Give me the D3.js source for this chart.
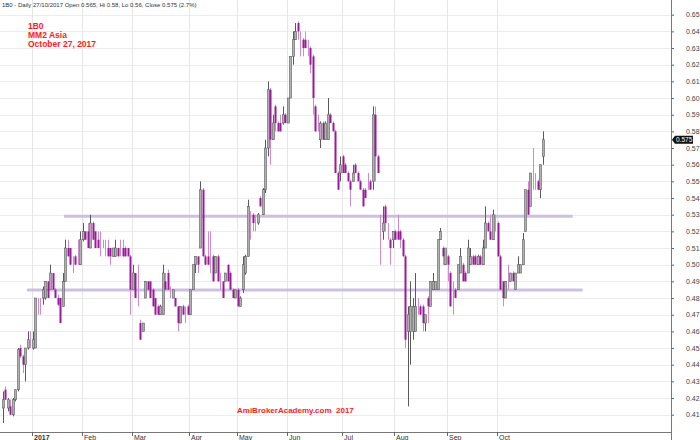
<!DOCTYPE html>
<html><head><meta charset="utf-8">
<script src="https://cdn.jsdelivr.net/npm/d3@7"></script>
<style>html,body{margin:0;padding:0;background:#fff}svg{display:block}</style>
</head><body>
<svg id="c" width="700" height="440"></svg>
<script>
const opens  = [0.414,0.425,0.414,0.415,0.410,0.419,0.425,0.450,0.445,0.440,0.450,0.455,0.450,0.450,0.477,0.476,0.480,0.480,0.490,0.485,0.495,0.485,0.480,0.480,0.475,0.490,0.510,0.510,0.504,0.505,0.505,0.500,0.515,0.520,0.520,0.510,0.525,0.520,0.515,0.510,0.512,0.510,0.510,0.510,0.505,0.505,0.510,0.510,0.510,0.510,0.510,0.505,0.485,0.495,0.485,0.465,0.460,0.480,0.490,0.490,0.485,0.480,0.475,0.470,0.470,0.490,0.495,0.484,0.480,0.480,0.475,0.465,0.475,0.470,0.475,0.470,0.485,0.500,0.505,0.510,0.545,0.505,0.505,0.505,0.505,0.495,0.505,0.490,0.490,0.490,0.500,0.495,0.485,0.480,0.485,0.475,0.485,0.495,0.505,0.525,0.530,0.525,0.525,0.540,0.530,0.545,0.570,0.605,0.575,0.595,0.585,0.585,0.585,0.590,0.585,0.600,0.625,0.635,0.645,0.635,0.635,0.635,0.630,0.630,0.625,0.595,0.585,0.575,0.585,0.575,0.575,0.590,0.585,0.580,0.555,0.555,0.565,0.560,0.555,0.550,0.550,0.560,0.555,0.550,0.545,0.545,0.550,0.550,0.550,0.590,0.565,0.520,0.520,0.535,0.520,0.515,0.515,0.520,0.520,0.520,0.515,0.505,0.460,0.460,0.460,0.460,0.475,0.475,0.475,0.465,0.480,0.475,0.485,0.485,0.485,0.515,0.510,0.500,0.505,0.495,0.485,0.485,0.485,0.495,0.500,0.495,0.495,0.500,0.505,0.505,0.500,0.505,0.500,0.510,0.525,0.520,0.515,0.525,0.525,0.505,0.490,0.480,0.490,0.490,0.495,0.485,0.495,0.495,0.500,0.520,0.545,0.535,0.550,0.550,0.550,0.545,0.565];
const highs  = [0.424,0.427,0.420,0.419,0.420,0.425,0.450,0.452,0.446,0.450,0.460,0.460,0.460,0.480,0.480,0.480,0.487,0.490,0.490,0.500,0.495,0.486,0.482,0.480,0.495,0.515,0.515,0.510,0.505,0.506,0.515,0.520,0.525,0.520,0.525,0.530,0.526,0.520,0.520,0.520,0.515,0.515,0.515,0.510,0.510,0.515,0.510,0.515,0.515,0.511,0.510,0.506,0.500,0.495,0.500,0.467,0.465,0.490,0.490,0.490,0.486,0.480,0.476,0.476,0.500,0.495,0.497,0.487,0.485,0.480,0.475,0.475,0.476,0.475,0.476,0.485,0.500,0.505,0.505,0.550,0.546,0.506,0.520,0.520,0.506,0.505,0.506,0.495,0.490,0.495,0.500,0.496,0.486,0.485,0.486,0.481,0.505,0.506,0.539,0.532,0.531,0.530,0.531,0.541,0.546,0.575,0.610,0.606,0.590,0.596,0.586,0.590,0.595,0.591,0.600,0.625,0.640,0.645,0.646,0.640,0.636,0.640,0.635,0.631,0.626,0.596,0.590,0.586,0.586,0.586,0.600,0.591,0.586,0.581,0.556,0.565,0.566,0.561,0.556,0.551,0.560,0.561,0.556,0.551,0.546,0.546,0.555,0.551,0.595,0.595,0.566,0.530,0.535,0.536,0.525,0.516,0.520,0.521,0.530,0.521,0.516,0.506,0.475,0.490,0.480,0.495,0.480,0.476,0.476,0.470,0.481,0.490,0.495,0.490,0.515,0.522,0.511,0.510,0.506,0.496,0.490,0.486,0.500,0.510,0.501,0.496,0.515,0.510,0.506,0.506,0.506,0.506,0.515,0.535,0.526,0.530,0.533,0.530,0.526,0.506,0.490,0.490,0.500,0.495,0.496,0.495,0.505,0.500,0.519,0.545,0.550,0.555,0.570,0.555,0.551,0.560,0.580];
const lows   = [0.405,0.419,0.412,0.410,0.409,0.418,0.424,0.444,0.435,0.430,0.449,0.450,0.449,0.450,0.470,0.470,0.476,0.479,0.480,0.485,0.485,0.480,0.475,0.465,0.475,0.490,0.505,0.500,0.495,0.500,0.500,0.500,0.514,0.515,0.510,0.510,0.515,0.510,0.510,0.505,0.510,0.505,0.505,0.500,0.505,0.505,0.505,0.505,0.505,0.505,0.505,0.470,0.485,0.480,0.475,0.455,0.460,0.480,0.485,0.480,0.475,0.470,0.470,0.470,0.470,0.485,0.485,0.480,0.480,0.475,0.460,0.465,0.470,0.465,0.470,0.470,0.485,0.495,0.495,0.510,0.505,0.500,0.500,0.495,0.490,0.495,0.490,0.485,0.480,0.490,0.490,0.485,0.480,0.480,0.475,0.475,0.483,0.494,0.505,0.515,0.520,0.520,0.524,0.535,0.530,0.543,0.565,0.560,0.575,0.580,0.580,0.580,0.584,0.585,0.585,0.600,0.620,0.635,0.635,0.625,0.625,0.630,0.625,0.615,0.590,0.580,0.580,0.570,0.575,0.575,0.575,0.585,0.580,0.555,0.545,0.550,0.555,0.555,0.550,0.535,0.550,0.555,0.550,0.545,0.535,0.540,0.545,0.545,0.545,0.550,0.555,0.500,0.515,0.520,0.515,0.500,0.510,0.515,0.515,0.510,0.505,0.450,0.415,0.440,0.455,0.460,0.470,0.470,0.460,0.460,0.465,0.475,0.485,0.485,0.485,0.515,0.500,0.500,0.490,0.475,0.470,0.480,0.485,0.495,0.490,0.490,0.495,0.500,0.500,0.500,0.500,0.500,0.500,0.510,0.520,0.515,0.515,0.520,0.505,0.485,0.475,0.480,0.485,0.490,0.490,0.485,0.495,0.495,0.500,0.520,0.530,0.535,0.545,0.545,0.545,0.540,0.560];
const closes = [0.419,0.419,0.419,0.410,0.419,0.425,0.449,0.445,0.440,0.450,0.455,0.455,0.455,0.480,0.477,0.476,0.485,0.490,0.480,0.495,0.485,0.480,0.476,0.465,0.490,0.510,0.505,0.500,0.504,0.500,0.505,0.515,0.520,0.515,0.510,0.525,0.515,0.510,0.510,0.510,0.512,0.510,0.505,0.505,0.510,0.510,0.505,0.510,0.505,0.505,0.505,0.485,0.495,0.480,0.485,0.455,0.465,0.490,0.485,0.480,0.475,0.470,0.470,0.475,0.495,0.485,0.485,0.484,0.485,0.475,0.465,0.475,0.470,0.470,0.470,0.485,0.500,0.505,0.500,0.545,0.505,0.500,0.500,0.505,0.490,0.505,0.490,0.490,0.480,0.495,0.490,0.485,0.480,0.485,0.475,0.480,0.500,0.505,0.535,0.525,0.525,0.525,0.530,0.535,0.545,0.570,0.605,0.575,0.585,0.585,0.580,0.580,0.590,0.585,0.600,0.625,0.635,0.640,0.640,0.635,0.630,0.630,0.630,0.620,0.600,0.580,0.585,0.585,0.575,0.585,0.590,0.585,0.580,0.555,0.545,0.560,0.555,0.555,0.550,0.545,0.555,0.555,0.550,0.545,0.535,0.540,0.550,0.545,0.590,0.565,0.555,0.520,0.525,0.525,0.520,0.510,0.520,0.515,0.515,0.515,0.505,0.455,0.470,0.475,0.475,0.475,0.475,0.470,0.465,0.470,0.475,0.490,0.490,0.490,0.515,0.520,0.505,0.510,0.500,0.475,0.485,0.480,0.500,0.505,0.490,0.490,0.510,0.505,0.500,0.500,0.505,0.500,0.510,0.525,0.520,0.515,0.530,0.525,0.505,0.485,0.480,0.490,0.490,0.495,0.490,0.495,0.500,0.500,0.515,0.545,0.530,0.555,0.550,0.550,0.545,0.560,0.575];

const monthLabels = ["2017","Feb","Mar","Apr","May","Jun","Jul","Aug","Sep","Oct"];
const monthStart  = [12, 32, 52, 75, 94, 114, 136, 157, 178, 198];
const priceTicks  = d3.range(41, 66).map(v => v / 100);
const supportLevels = [0.529, 0.4848];
const supportFrom   = [24.5, 9.7];
const supportTo     = [228, 232];
const headerText = "1B0 - Daily 27/10/2017 Open 0.565, Hi 0.58, Lo 0.56, Close 0.575 (2.7%)";
const titleLines = ["1B0", "MM2 Asia", "October 27, 2017"];
const footerText = "AmiBrokerAcademy.com  2017";
const lastClose = 0.575;

const data = opens.map((o, i) => ({i, o, h: highs[i], l: lows[i], c: closes[i]}));

const svg = d3.select("#c");
const font = "'Liberation Sans', Arial, sans-serif";
const axisX = 671, axisY = 432;

const x = d3.scaleLinear().domain([0, opens.length - 1]).range([2.7, 542.7]);
const y = d3.scaleLinear().domain([0.41, 0.65]).range([414.7, 14.7]);

svg.append("rect").attr("width", 700).attr("height", 440).attr("fill", "#fff");

// horizontal grid
svg.append("g").selectAll("line").data(priceTicks).join("line")
  .attr("x1", 0).attr("x2", axisX)
  .attr("y1", d => Math.round(y(d)) + 0.5).attr("y2", d => Math.round(y(d)) + 0.5)
  .attr("stroke", "#ececec").attr("stroke-width", 1);

// vertical month grid
svg.append("g").selectAll("line").data(monthStart).join("line")
  .attr("x1", d => Math.round(x(d) - 1) + 0.5).attr("x2", d => Math.round(x(d) - 1) + 0.5)
  .attr("y1", 0).attr("y2", axisY)
  .attr("stroke", "#e6e6e6").attr("stroke-width", 1);

// support lines
svg.append("g").selectAll("line").data(supportLevels).join("line")
  .attr("x1", (d, k) => x(supportFrom[k])).attr("x2", (d, k) => x(supportTo[k]))
  .attr("y1", d => y(d)).attr("y2", d => y(d))
  .attr("stroke", "#c9b9dd").attr("stroke-opacity", 0.9).attr("stroke-width", 3);

// candles
const upWick = "#5a5a5a", downWick = "#d08ad0";
const cg = svg.append("g");
cg.selectAll("line.w").data(data).join("line").attr("class", "w")
  .attr("x1", d => Math.round(x(d.i)) + 0.5).attr("x2", d => Math.round(x(d.i)) + 0.5)
  .attr("y1", d => y(d.h)).attr("y2", d => y(d.l))
  .attr("stroke", d => d.c > d.o ? upWick : downWick).attr("stroke-width", 1);

cg.selectAll("rect.b").data(data.filter(d => d.c !== d.o)).join("rect").attr("class", "b")
  .attr("x", d => Math.round(x(d.i)) - 0.5)
  .attr("width", 2)
  .attr("y", d => y(Math.max(d.o, d.c)))
  .attr("height", d => Math.max(1, Math.abs(y(d.o) - y(d.c))))
  .attr("fill", d => d.c > d.o ? "#b0b0b0" : "#9a1a9a")
  .attr("stroke", d => d.c > d.o ? "#5e5e5e" : "none")
  .attr("stroke-width", 0.6);

// right axis
const ra = svg.append("g").attr("transform", `translate(${axisX},0)`)
  .call(d3.axisRight(y).tickValues(priceTicks).tickFormat(d3.format(".2f")).tickSize(3).tickPadding(12));
ra.select(".domain").remove();
ra.selectAll(".tick line").attr("stroke", "#666");
ra.selectAll(".tick text").attr("font-family", font).attr("font-size", 7).attr("fill", "#444");
svg.append("line").attr("x1", axisX + 0.5).attr("x2", axisX + 0.5).attr("y1", 0).attr("y2", 440)
  .attr("stroke", "#777").attr("stroke-width", 1);

// bottom axis
svg.append("line").attr("x1", 0).attr("x2", axisX).attr("y1", axisY + 0.5).attr("y2", axisY + 0.5)
  .attr("stroke", "#777").attr("stroke-width", 1);
const bt = svg.append("g").selectAll("g").data(monthStart).join("g")
  .attr("transform", d => `translate(${Math.round(x(d) - 1) + 0.5},${axisY})`);
bt.append("line").attr("y1", 0).attr("y2", 4).attr("stroke", "#666");
bt.append("text").attr("x", 1.5).attr("y", 7.5)
  .attr("font-family", font).attr("font-size", 7).attr("fill", "#333")
  .attr("font-weight", (d, k) => k === 0 ? "bold" : "normal")
  .text((d, k) => monthLabels[k]);

// header
svg.append("text").attr("x", 2).attr("y", 7).attr("font-family", font).attr("font-size", 6)
  .attr("fill", "#333").text(headerText);

svg.append("g").selectAll("text").data(titleLines).join("text")
  .attr("x", 28).attr("y", (d, k) => 28.5 + k * 9)
  .attr("font-family", font).attr("font-size", 8.5).attr("font-weight", "bold").attr("fill", "#ff1a1a")
  .text(d => d);

svg.append("text").attr("x", 237).attr("y", 412.5)
  .style("white-space", "pre")
  .attr("font-family", font).attr("font-size", 8).attr("font-weight", "bold").attr("fill", "#ff1a1a")
  .text(footerText);

// last price marker
const ly = y(lastClose);
svg.append("path")
  .attr("d", `M${axisX + 1},${ly} L${axisX + 4},${ly - 4} L${axisX + 22},${ly - 4} L${axisX + 22},${ly + 4} L${axisX + 4},${ly + 4} Z`)
  .attr("fill", "#111");
svg.append("text").attr("x", axisX + 5).attr("y", ly + 2.5)
  .attr("font-family", font).attr("font-size", 6.5).attr("fill", "#fff").text(lastClose.toFixed(3));
</script>
</body></html>
